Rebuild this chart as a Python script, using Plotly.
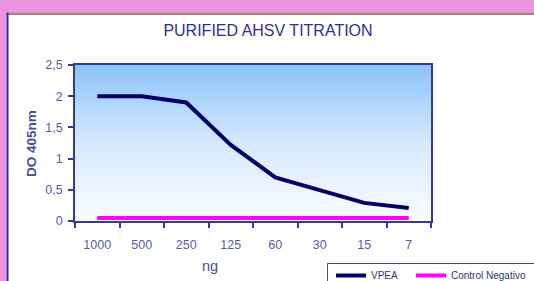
import plotly.graph_objects as go

categories = ["1000", "500", "250", "125", "60", "30", "15", "7"]
vpea = [2.0, 2.0, 1.9, 1.22, 0.7, 0.5, 0.29, 0.21]
control = [0.05, 0.05, 0.05, 0.05, 0.05, 0.05, 0.05, 0.05]
y_ticks = [0, 0.5, 1, 1.5, 2, 2.5]

W, H = 534, 281
L, R, T, B = 75, 103, 65, 60
pw, ph = W - L - R, H - T - B

def px_x(px):
    return (px - L) / pw

def px_y(py):
    return (H - B - py) / ph

xs = list(range(len(categories)))
fig = go.Figure()

# gradient background of the plot area
fig.add_trace(go.Scatter(
    x=[-0.5, len(categories) - 0.5, len(categories) - 0.5, -0.5, -0.5],
    y=[0, 0, 2.5, 2.5, 0],
    fill="toself", mode="lines", line=dict(width=0),
    fillgradient=dict(type="vertical", colorscale=[[0, "#fafcff"], [0.5, "#d6e9fd"], [1, "#8cc4fa"]]),
    hoverinfo="skip", showlegend=False))

fig.add_trace(go.Scatter(x=xs, y=vpea, mode="lines", name="VPEA", legend="legend",
                         line=dict(color="#000066", width=4)))
fig.add_trace(go.Scatter(x=xs, y=control, mode="lines", name="Control Negativo", legend="legend2",
                         line=dict(color="#ff00ff", width=4)))

axis_col = "#3a3a8c"
tick_font = dict(family="Liberation Sans, Arial", size=12.5, color="#5a5aa6")

fig.update_xaxes(
    range=[-0.5, len(categories) - 0.5], tickvals=xs, ticktext=categories,
    ticks="", showgrid=False, zeroline=False,
    showline=True, linecolor=axis_col, linewidth=1.5, mirror=True,
    tickfont=tick_font, ticklabelstandoff=11,
    minor=dict(tickvals=[i - 0.5 for i in range(len(categories) + 1)],
               ticks="outside", ticklen=5, tickcolor=axis_col, tickwidth=1.5, showgrid=False),
)
fig.update_yaxes(
    range=[0, 2.5], tickvals=y_ticks, ticks="outside", ticklen=5,
    tickcolor=axis_col, tickwidth=1.5,
    showgrid=True, gridcolor="#8a8aa6", gridwidth=1.5, zeroline=False,
    showline=True, linecolor=axis_col, linewidth=1.5, mirror=True,
    tickfont=tick_font, ticklabelstandoff=3,
)

shapes = [
    # pink frame
    dict(type="rect", xref="paper", yref="paper", x0=px_x(-5), x1=px_x(W + 5),
         y0=px_y(-5), y1=px_y(12.5), fillcolor="#ec94e0", line=dict(width=0), layer="below"),
    dict(type="rect", xref="paper", yref="paper", x0=px_x(-5), x1=px_x(6.5),
         y0=px_y(H + 5), y1=px_y(-5), fillcolor="#ec94e0", line=dict(width=0), layer="below"),
    dict(type="rect", xref="paper", yref="paper", x0=px_x(6.5), x1=px_x(W + 5),
         y0=px_y(15), y1=px_y(12.5), fillcolor="#b97880", line=dict(width=0), layer="below"),
    dict(type="rect", xref="paper", yref="paper", x0=px_x(6.5), x1=px_x(8.5),
         y0=px_y(H + 5), y1=px_y(12.5), fillcolor="#2f2fa0", line=dict(width=0), layer="below"),
    # legend box
    dict(type="rect", xref="paper", yref="paper", x0=px_x(327.5), x1=px_x(W + 10),
         y0=px_y(H + 10), y1=px_y(263.5), fillcolor="rgba(0,0,0,0)",
         line=dict(width=1, color="#4a4a8a"), layer="above"),
]

annotations = [
    dict(text="<b>DO 405nm</b>", xref="paper", yref="paper", x=px_x(31), y=px_y(144),
         xanchor="center", yanchor="middle",
         textangle=-90, showarrow=False, font=dict(family="Liberation Sans, Arial", size=13.5, color="#4a4a9a")),
    dict(text="ng", xref="paper", yref="paper", x=px_x(210), y=px_y(266),
         xanchor="center", yanchor="middle",
         showarrow=False, font=dict(family="Liberation Sans, Arial", size=14.5, color="#4a4a9a")),
]

leg_common = dict(orientation="h", xanchor="left", yanchor="top",
                  borderwidth=0, bgcolor="rgba(0,0,0,0)",
                  font=dict(family="Liberation Sans, Arial", size=10, color="#33337a"),
                  itemwidth=30, tracegroupgap=0)

fig.update_layout(
    width=W, height=H,
    margin=dict(l=L, r=R, t=T, b=B, autoexpand=False),
    paper_bgcolor="#ffffff", plot_bgcolor="rgba(0,0,0,0)",
    separators=",.",
    title=dict(text="PURIFIED AHSV TITRATION", x=268 / W, xanchor="center",
               y=1 - 30 / H, yanchor="middle",
               font=dict(family="Liberation Sans, Arial", size=16, color="#2e3192")),
    shapes=shapes, annotations=annotations,
    legend=dict(x=px_x(331), y=px_y(261), **leg_common),
    legend2=dict(x=px_x(411), y=px_y(261), **leg_common),
    showlegend=True,
)

fig.write_html("out.html", config={"displayModeBar": False},
               post_script="document.body.style.margin='0';document.body.style.overflow='hidden';")
